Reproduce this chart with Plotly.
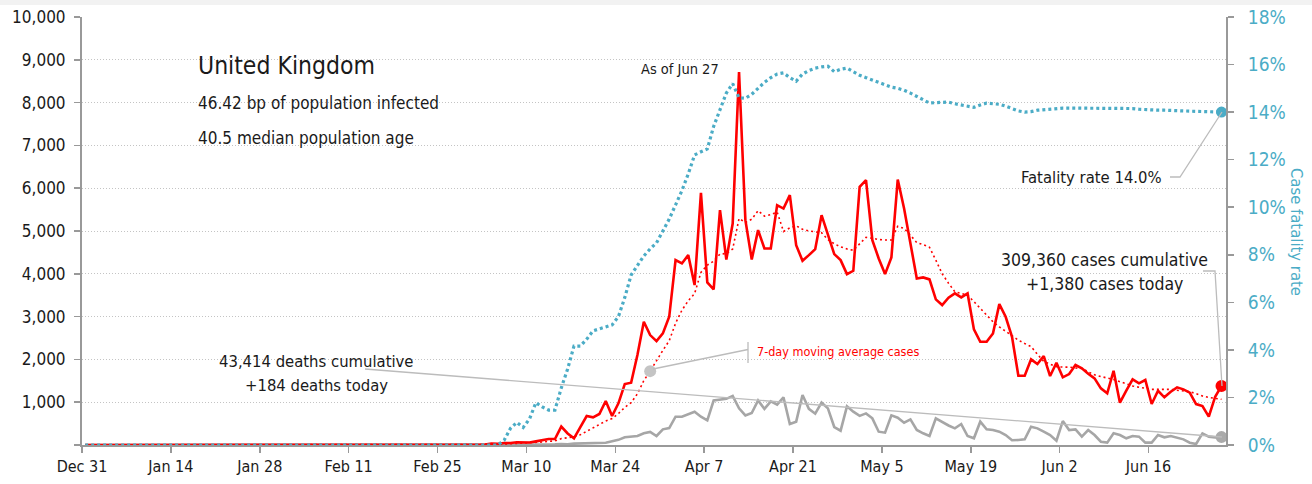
import pandas as pd
import plotly.graph_objects as go

# ---------------- data ----------------
dates = pd.date_range("2019-12-31 12:00", periods=180, freq="D")

daily_cases = (
    [0] * 30
    + [0, 2, 0, 0, 0, 0, 0, 1, 0, 0]
    + [0, 4, 1, 0, 1, 0, 0, 0, 0, 0]
    + [0, 0, 0, 0, 0, 4, 0, 1, 2, 5]
    + [3, 13, 4, 11, 34, 29, 46, 46, 65, 70]
    + [60, 85, 120, 140, 140, 430, 270, 155, 420, 677]
    + [646, 724, 1027, 677, 973, 1424, 1455, 2108, 2880, 2568]
    + [2428, 2607, 2996, 4320, 4242, 4436, 3736, 5891, 3798, 3634]
    + [5487, 4335, 5175, 8716, 5253, 4335, 5020, 4592, 4592, 5603]
    + [5525, 5837, 4670, 4304, 4436, 4576, 5370, 4903, 4459, 4320]
    + [3993, 4070, 6031, 6187, 4786, 4359, 3993, 4382, 6203, 5525]
    + [4709, 3892, 3915, 3869, 3402, 3269, 3440, 3542, 3448, 3542]
    + [2701, 2412, 2412, 2607, 3292, 2996, 2529, 1618, 1618, 2001]
    + [1891, 2078, 1611, 1922, 1581, 1658, 1868, 1791, 1665, 1557]
    + [1323, 1207, 1735, 988, 1268, 1534, 1440, 1518, 957, 1268]
    + [1114, 1245, 1347, 1300, 1222, 957, 911, 661, 1128, 1380]
)

cases_ma7 = (
    [0] * 30
    + [0, 0.3, 0.3, 0.3, 0.3, 0.3, 0.3, 0.4, 0.1, 0.1]
    + [0.1, 0.7, 0.9, 0.9, 1, 1, 0.9, 0.3, 0.1, 0.1]
    + [0, 0, 0, 0, 0, 0.6, 0.6, 0.7, 1, 1.7]
    + [2.1, 4, 4, 5.6, 10, 14, 20, 26, 34, 43]
    + [50, 57, 70, 84, 97, 149, 178, 191, 239, 319]
    + [391, 475, 560, 618, 735, 878, 989, 1198, 1506, 1726]
    + [1977, 2210, 2435, 2844, 3149, 3371, 3538, 4033, 4203, 4294]
    + [4461, 4474, 4579, 5291, 5200, 5276, 5474, 5347, 5383, 5444]
    + [4989, 5072, 5120, 5040, 5000, 4980, 4960, 4800, 4700, 4630]
    + [4580, 4550, 4710, 4850, 4830, 4800, 4790, 4790, 5110, 5060]
    + [4900, 4730, 4680, 4620, 4320, 4000, 3780, 3580, 3540, 3500]
    + [3350, 3190, 3030, 2880, 2760, 2650, 2550, 2450, 2370, 2300]
    + [2120, 1950, 1890, 1830, 1820, 1820, 1800, 1790, 1710, 1640]
    + [1600, 1570, 1530, 1480, 1430, 1380, 1350, 1320, 1300, 1300]
    + [1300, 1300, 1280, 1260, 1245, 1200, 1145, 1110, 1090, 1067]
)

daily_deaths = (
    [0] * 60
    + [0, 0, 0, 0, 0, 1, 1, 0, 1, 2]
    + [1, 2, 1, 10, 14, 20, 16, 33, 40, 33]
    + [56, 48, 54, 87, 120, 180, 195, 210, 275, 305]
    + [210, 366, 395, 661, 661, 724, 778, 661, 575, 1040]
    + [1051, 1078, 1148, 856, 692, 747, 1043, 845, 1020, 945]
    + [1113, 490, 545, 1167, 845, 732, 992, 856, 420, 335]
    + [903, 778, 681, 739, 623, 311, 288, 692, 638, 522]
    + [599, 350, 273, 210, 623, 533, 456, 389, 490, 210]
    + [156, 545, 366, 350, 311, 233, 110, 117, 132, 428]
    + [389, 311, 233, 101, 560, 350, 366, 195, 350, 233]
    + [78, 55, 272, 233, 156, 210, 195, 55, 55, 233]
    + [179, 210, 179, 132, 55, 23, 272, 195, 179, 184]
)

fatality_rate = (
    [0] * 60
    + [0, 0, 0, 0, 0, 0, 0.2, 0.7, 0.95, 0.74]
    + [1.1, 1.78, 1.6, 1.47, 1.47, 2.4, 3.2, 4.16, 4.16, 4.45]
    + [4.8, 4.88, 4.97, 5.05, 5.4, 6.2, 7.15, 7.55, 7.95, 8.25]
    + [8.5, 9.0, 9.5, 10.1, 10.7, 11.4, 12.2, 12.33, 12.45, 13.4]
    + [14.1, 14.8, 15.2, 14.6, 14.58, 14.75, 15.0, 15.25, 15.45, 15.6]
    + [15.65, 15.45, 15.3, 15.6, 15.75, 15.85, 15.9, 15.93, 15.7, 15.8]
    + [15.85, 15.7, 15.55, 15.45, 15.35, 15.25, 15.15, 15.05, 15.0, 14.92]
    + [14.8, 14.65, 14.5, 14.38, 14.4, 14.42, 14.42, 14.35, 14.3, 14.25]
    + [14.2, 14.3, 14.38, 14.35, 14.33, 14.25, 14.15, 14.05, 14.0, 14.02]
    + [14.08, 14.1, 14.12, 14.17, 14.17, 14.17, 14.17, 14.17, 14.15, 14.15]
    + [14.15, 14.15, 14.15, 14.15, 14.15, 14.15, 14.12, 14.1, 14.08, 14.08]
    + [14.08, 14.06, 14.05, 14.05, 14.04, 14.03, 14.03, 14.02, 14.01, 14.0]
)

x_tick_dates = pd.date_range("2019-12-31", "2020-06-16", freq="14D")
x_tick_labels = ["Dec 31", "Jan 14", "Jan 28", "Feb 11", "Feb 25", "Mar 10", "Mar 24",
                 "Apr 7", "Apr 21", "May 5", "May 19", "Jun 2", "Jun 16"]
y_tick_vals = list(range(0, 10001, 1000))
y_tick_labels = [""] + [f"{v:,}" for v in y_tick_vals[1:]]
y2_tick_vals = list(range(0, 19, 2))
y2_tick_labels = [f"{v}%" for v in y2_tick_vals]

country = "United Kingdom"
info_lines = ["46.42 bp of population infected", "40.5 median population age"]
ma_marker_day = 89

# ---------------- style ----------------
FONT = "DejaVu Sans Condensed, DejaVu Sans, sans-serif"
RED = "#ff0000"
BLUE = "#4bacc6"
GRAY = "#a6a6a6"
LEADER = "#bcbcbc"
AXIS = "#999999"
INK = "#1a1a1a"

W, H = 1312, 484
ML, MR, MT, MB = 82, 86, 17, 39
PW, PH = W - ML - MR, H - MT - MB


def px(xp):
    return (xp - ML) / PW


def py(yp):
    return (H - MB - yp) / PH


fig = go.Figure()

fig.add_trace(go.Scatter(x=dates, y=fatality_rate, yaxis="y2", mode="lines",
                         line=dict(color=BLUE, width=3.2, dash="3px,3px"), hoverinfo="skip"))
fig.add_trace(go.Scatter(x=dates, y=daily_deaths, mode="lines",
                         line=dict(color=GRAY, width=2.6), hoverinfo="skip"))
fig.add_trace(go.Scatter(x=dates, y=cases_ma7, mode="lines",
                         line=dict(color=RED, width=1.6, dash="2px,3px"), hoverinfo="skip"))
fig.add_trace(go.Scatter(x=dates, y=daily_cases, mode="lines",
                         line=dict(color=RED, width=2.6), hoverinfo="skip"))

# end markers
fig.add_trace(go.Scatter(x=[dates[-1]], y=[fatality_rate[-1]], yaxis="y2", mode="markers",
                         marker=dict(color=BLUE, size=11), hoverinfo="skip"))
fig.add_trace(go.Scatter(x=[dates[-1]], y=[daily_cases[-1]], mode="markers",
                         marker=dict(color=RED, size=12), hoverinfo="skip"))
fig.add_trace(go.Scatter(x=[dates[-1]], y=[daily_deaths[-1]], mode="markers",
                         marker=dict(color="#aaaaaa", size=12), hoverinfo="skip"))
fig.add_trace(go.Scatter(x=[dates[ma_marker_day]], y=[cases_ma7[ma_marker_day]], mode="markers",
                         marker=dict(color="#c4c4c4", size=12), hoverinfo="skip"))

shapes = []
# top light strip
shapes.append(dict(type="rect", xref="paper", yref="paper", x0=px(0), x1=px(W), y0=py(5), y1=py(0),
                   fillcolor="#f2f2f2", line=dict(width=0), layer="below"))


def seg(pts, color=LEADER, width=1.3):
    path = "M " + " L ".join(f"{px(a)},{py(b)}" for a, b in pts)
    shapes.append(dict(type="path", xref="paper", yref="paper", path=path,
                       line=dict(color=color, width=width)))


seg([(1170, 177), (1180, 177), (1222, 112)])
seg([(1203, 271), (1215, 271), (1222, 386)])
seg([(365, 369), (1222, 437)])
seg([(653, 369), (748, 349.5)])
seg([(748, 342), (748, 363)])

annotations = []


def txt(x, y, s, size, color=INK, xanchor="left", align="left", **kw):
    annotations.append(dict(x=px(x), y=py(y), xref="paper", yref="paper", text=s, showarrow=False,
                            xanchor=xanchor, yanchor="middle", align=align,
                            font=dict(family=FONT, size=size, color=color), **kw))


txt(196, 65, country, 24.5)
txt(196, 103, info_lines[0], 17)
txt(196, 138, info_lines[1], 17)
txt(680, 69, "As of Jun 27", 14.5, xanchor="center")
txt(1164, 178, "Fatality rate 14.0%", 16.5, xanchor="right")
txt(1104, 260, "309,360 cases cumulative", 17.5, xanchor="center")
txt(1104, 284, "+1,380 cases today", 17.5, xanchor="center")
txt(316, 361, "43,414 deaths cumulative", 16.5, xanchor="center")
txt(316, 385, "+184 deaths today", 16.5, xanchor="center")
txt(755, 351, "7-day moving average cases", 12.5, color=RED)
txt(1296, 232, "Case fatality rate", 16.5, color=BLUE, xanchor="center", textangle=90)

fig.update_layout(
    width=W, height=H,
    margin=dict(l=ML, r=MR, t=MT, b=MB, autoexpand=False),
    paper_bgcolor="white", plot_bgcolor="white",
    showlegend=False,
    font=dict(family=FONT, size=17, color=INK),
    shapes=shapes, annotations=annotations,
    xaxis=dict(type="date", range=["2019-12-31 00:00", "2020-06-28 05:00"], automargin=False,
               tickvals=list(x_tick_dates), ticktext=x_tick_labels,
               showline=True, linecolor=AXIS, linewidth=2,
               ticks="outside", ticklen=6, tickwidth=1.5, tickcolor=AXIS,
               showgrid=False, zeroline=False, tickfont=dict(size=16, color=INK)),
    yaxis=dict(range=[0, 10000], tickvals=y_tick_vals, ticktext=y_tick_labels, automargin=False,
               showline=True, linecolor=AXIS, linewidth=2,
               ticks="outside", ticklen=6, tickwidth=1.5, tickcolor=AXIS, ticklabelstandoff=5,
               showgrid=True, gridcolor="#c4c4c4", gridwidth=1, griddash="1px,2px",
               zeroline=False, tickfont=dict(size=17, color=INK)),
    yaxis2=dict(range=[0, 18], overlaying="y", side="right", anchor="x", automargin=False,
                tickvals=y2_tick_vals, ticktext=y2_tick_labels,
                showline=True, linecolor=AXIS, linewidth=2,
                ticks="outside", ticklen=6, tickwidth=1.5, tickcolor=AXIS, ticklabelstandoff=10,
                showgrid=False, zeroline=False, tickfont=dict(size=19, color=BLUE)),
)

fig.write_html("out.html",
               config={"displayModeBar": False, "staticPlot": True},
               post_script="document.body.style.margin='0';document.body.style.overflow='hidden';")
